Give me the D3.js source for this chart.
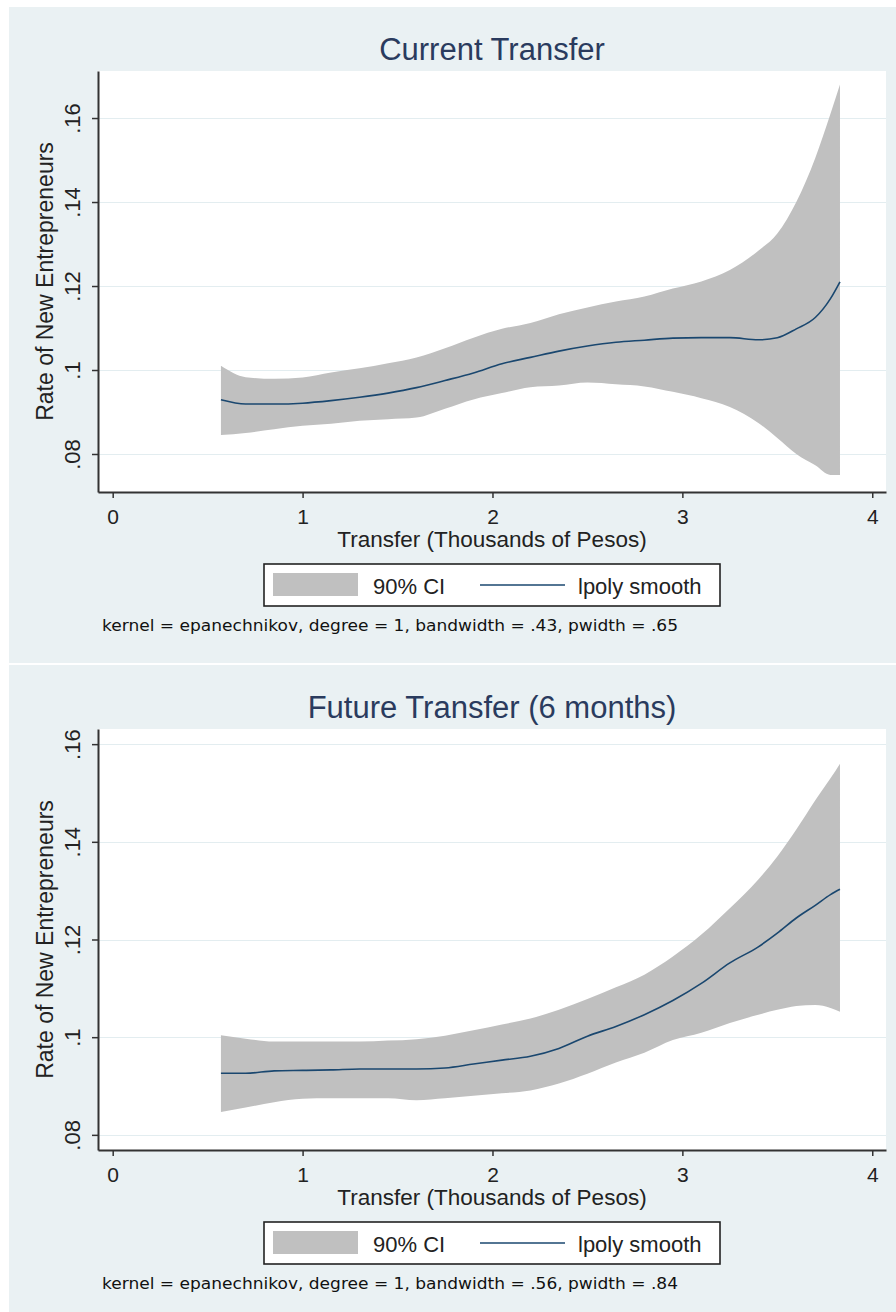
<!DOCTYPE html>
<html>
<head>
<meta charset="utf-8">
<script src="https://cdn.jsdelivr.net/npm/d3@7"></script>
<style>
  html, body { margin: 0; padding: 0; background: #ffffff; }
  svg { display: block; }
</style>
</head>
<body>
<svg id="chart" width="896" height="1312"></svg>
<script>
// ---------- data ----------
const panelTitles = ["Current Transfer", "Future Transfer (6 months)"];
const xAxisTitle = "Transfer (Thousands of Pesos)";
const yAxisTitle = "Rate of New Entrepreneurs";
const legendLabels = ["90% CI", "lpoly smooth"];
const notes = [
  "kernel = epanechnikov, degree = 1, bandwidth = .43, pwidth = .65",
  "kernel = epanechnikov, degree = 1, bandwidth = .56, pwidth = .84"
];
const xTicks = [0, 1, 2, 3, 4];
const yTicks = [0.08, 0.10, 0.12, 0.14, 0.16];
const yTickLabels = [".08", ".1", ".12", ".14", ".16"];

const transferGrid = [0.57, 0.70, 0.85, 1.00, 1.15, 1.30, 1.45, 1.60, 1.75, 1.90, 2.05, 2.20, 2.35, 2.50,
                      2.65, 2.80, 2.95, 3.10, 3.25, 3.40, 3.50, 3.60, 3.70, 3.78, 3.83];

const currentFit = [0.0929, 0.0919, 0.0919, 0.0921, 0.0927, 0.0935, 0.0945, 0.0958, 0.0975, 0.0993, 0.1015, 0.1030, 0.1045, 0.1057,
                    0.1066, 0.1071, 0.1076, 0.1077, 0.1077, 0.1072, 0.1077, 0.1098, 0.1125, 0.1170, 0.1210];
const currentLo  = [0.0845, 0.0850, 0.0859, 0.0867, 0.0872, 0.0879, 0.0883, 0.0887, 0.0908, 0.0930, 0.0945, 0.0959, 0.0963, 0.0970,
                    0.0966, 0.0961, 0.0948, 0.0933, 0.0912, 0.0874, 0.0838, 0.0800, 0.0773, 0.0750, 0.0750];
const currentHi  = [0.1010, 0.0983, 0.0979, 0.0982, 0.0994, 0.1004, 0.1016, 0.1030, 0.1052, 0.1077, 0.1098, 0.1112, 0.1133, 0.1149,
                    0.1163, 0.1175, 0.1194, 0.1211, 0.1238, 0.1284, 0.1325, 0.1400, 0.1505, 0.1610, 0.1680];

const futureFit = [0.0926, 0.0926, 0.0931, 0.0932, 0.0933, 0.0935, 0.0935, 0.0935, 0.0937, 0.0945, 0.0953, 0.0961, 0.0977, 0.1002,
                   0.1022, 0.1046, 0.1075, 0.1110, 0.1152, 0.1185, 0.1213, 0.1244, 0.1270, 0.1292, 0.1303];
const futureLo  = [0.0847, 0.0856, 0.0867, 0.0874, 0.0875, 0.0875, 0.0875, 0.0871, 0.0875, 0.0880, 0.0885, 0.0891, 0.0905, 0.0925,
                   0.0948, 0.0968, 0.0994, 0.1009, 0.1029, 0.1046, 0.1056, 0.1064, 0.1066, 0.1060, 0.1052];
const futureHi  = [0.1004, 0.0997, 0.0991, 0.0991, 0.0991, 0.0991, 0.0993, 0.0996, 0.1003, 0.1014, 0.1026, 0.1038, 0.1056, 0.1078,
                   0.1102, 0.1128, 0.1165, 0.1210, 0.1264, 0.1323, 0.1370, 0.1425, 0.1485, 0.1530, 0.1560];

const panelYDomains = [[0.07095, 0.1712], [0.0769, 0.1631]];

// ---------- layout ----------
const svg = d3.select("#chart");
const BG = "#eaf1f3";
const plotL = 98, plotR = 886, plotT = 71, plotB = 492;
const panelStep = 658;

const x = d3.scaleLinear().domain([-0.0774, 4.0724]).range([plotL, plotR]);

const panels = [
  { fit: currentFit, lo: currentLo, hi: currentHi },
  { fit: futureFit, lo: futureLo, hi: futureHi }
];

panels.forEach((p, i) => {
  const g = svg.append("g").attr("transform", `translate(0,${i * panelStep})`);
  const y = d3.scaleLinear().domain(panelYDomains[i]).range([plotB, plotT]);
  const rows = transferGrid.map((t, k) => ({ x: t, fit: p.fit[k], lo: p.lo[k], hi: p.hi[k] }));

  // panel background
  g.append("rect").attr("x", 9).attr("y", 7).attr("width", 887).attr("height", 656).attr("fill", BG);
  // plot region
  g.append("rect").attr("x", plotL).attr("y", plotT).attr("width", plotR - plotL).attr("height", plotB - plotT).attr("fill", "#ffffff");

  // gridlines
  g.append("g").selectAll("line").data(yTicks).join("line")
    .attr("x1", plotL).attr("x2", plotR)
    .attr("y1", d => Math.round(y(d)) + 0.5).attr("y2", d => Math.round(y(d)) + 0.5)
    .attr("stroke", "#e3edf0").attr("stroke-width", 1.2);

  // CI band
  const area = d3.area().x(d => x(d.x)).y0(d => y(d.lo)).y1(d => y(d.hi)).curve(d3.curveMonotoneX);
  g.append("path").datum(rows).attr("d", area).attr("fill", "#c0c0c0").attr("stroke", "none");

  // fit line
  const line = d3.line().x(d => x(d.x)).y(d => y(d.fit)).curve(d3.curveMonotoneX);
  g.append("path").datum(rows).attr("d", line).attr("fill", "none")
    .attr("stroke", "#1a476f").attr("stroke-width", 1.6);

  // y axis
  const yAxis = g.append("g").attr("transform", `translate(${plotL},0)`)
    .call(d3.axisLeft(y).tickValues(yTicks).tickSize(6).tickSizeOuter(0)
      .tickFormat((d, k) => yTickLabels[k]));
  yAxis.select(".domain").attr("stroke", "#333").attr("stroke-width", 2);
  yAxis.selectAll(".tick line").attr("stroke", "#333").attr("stroke-width", 1.5);
  yAxis.selectAll(".tick text")
    .attr("x", 0).attr("dy", 0).attr("y", 0)
    .attr("transform", "translate(-18,0) rotate(-90)")
    .attr("text-anchor", "middle")
    .attr("font-family", "Liberation Sans, Arial, sans-serif")
    .attr("font-size", 22).attr("fill", "#222");

  // x axis
  const xAxis = g.append("g").attr("transform", `translate(0,${plotB})`)
    .call(d3.axisBottom(x).tickValues(xTicks).tickSize(6).tickSizeOuter(0).tickFormat(d3.format("d")));
  xAxis.select(".domain").attr("stroke", "#333").attr("stroke-width", 2);
  xAxis.selectAll(".tick line").attr("stroke", "#333").attr("stroke-width", 1.5);
  xAxis.selectAll(".tick text")
    .attr("y", 32).attr("dy", 0)
    .attr("font-family", "Liberation Sans, Arial, sans-serif")
    .attr("font-size", 21).attr("fill", "#222");

  // titles
  g.append("text").attr("x", (plotL + plotR) / 2).attr("y", 60)
    .attr("text-anchor", "middle")
    .attr("font-family", "Liberation Sans, Arial, sans-serif")
    .attr("font-size", 31).attr("fill", "#2a3b5e")
    .text(panelTitles[i]);

  g.append("text").attr("x", (plotL + plotR) / 2).attr("y", 547)
    .attr("text-anchor", "middle")
    .attr("font-family", "Liberation Sans, Arial, sans-serif")
    .attr("font-size", 22.5).attr("fill", "#222")
    .text(xAxisTitle);

  g.append("text")
    .attr("transform", `translate(53,${(plotT + plotB) / 2}) rotate(-90)`)
    .attr("text-anchor", "middle")
    .attr("font-family", "Liberation Sans, Arial, sans-serif")
    .attr("font-size", 23).attr("fill", "#222")
    .text(yAxisTitle);

  // legend
  const lg = g.append("g");
  lg.append("rect").attr("x", 264).attr("y", 564).attr("width", 456).attr("height", 42)
    .attr("fill", "#ffffff").attr("stroke", "#222").attr("stroke-width", 1.6);
  lg.append("rect").attr("x", 273).attr("y", 573).attr("width", 85).attr("height", 23).attr("fill", "#c0c0c0");
  lg.append("text").attr("x", 373).attr("y", 594)
    .attr("font-family", "Liberation Sans, Arial, sans-serif").attr("font-size", 22).attr("fill", "#222")
    .text(legendLabels[0]);
  lg.append("line").attr("x1", 480).attr("x2", 565).attr("y1", 585).attr("y2", 585)
    .attr("stroke", "#1a476f").attr("stroke-width", 1.6);
  lg.append("text").attr("x", 578).attr("y", 594)
    .attr("font-family", "Liberation Sans, Arial, sans-serif").attr("font-size", 22).attr("fill", "#222")
    .text(legendLabels[1]);

  // note
  g.append("text").attr("x", 102).attr("y", 631)
    .attr("font-family", "DejaVu Sans, sans-serif").attr("font-size", 15).attr("fill", "#111")
    .attr("textLength", 576).attr("lengthAdjust", "spacingAndGlyphs")
    .text(notes[i]);
});
</script>
</body>
</html>
